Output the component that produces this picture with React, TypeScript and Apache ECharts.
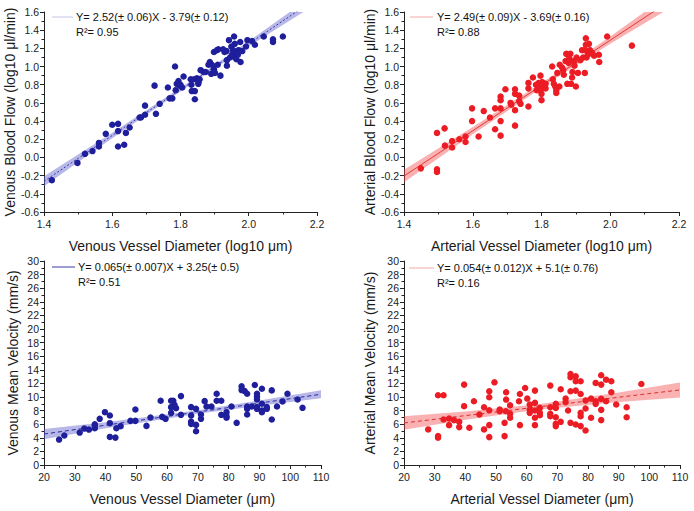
import React, { useEffect, useRef } from "react";
import * as echarts from "echarts";

// ---------- DATA ----------
const venousFlowPoints: number[][] = [
  [1.423, -0.25], [1.498, -0.06], [1.52, 0.04], [1.542, 0.07], [1.561, 0.16], [1.561, 0.12],
  [1.581, 0.26], [1.6, 0.36], [1.617, 0.37], [1.617, 0.29], [1.617, 0.12], [1.635, 0.14],
  [1.64, 0.27], [1.651, 0.33], [1.68, 0.44], [1.684, 0.44], [1.696, 0.57], [1.696, 0.47],
  [1.724, 0.79], [1.728, 0.48], [1.739, 0.59], [1.763, 0.77], [1.768, 0.65], [1.776, 0.65],
  [1.784, 1.0], [1.786, 0.74], [1.789, 0.81], [1.794, 0.84], [1.798, 0.79], [1.805, 0.77],
  [1.809, 0.89], [1.8, 0.8], [1.83, 0.86], [1.832, 0.8], [1.833, 0.73], [1.84, 0.86],
  [1.842, 0.73], [1.842, 0.64], [1.848, 0.87], [1.852, 0.81], [1.856, 0.86], [1.859, 0.96],
  [1.868, 0.94], [1.874, 0.94], [1.882, 1.02], [1.886, 1.05], [1.892, 1.02], [1.89, 0.92],
  [1.898, 0.97], [1.901, 0.93], [1.898, 1.16], [1.907, 1.18], [1.911, 1.19], [1.909, 1.02],
  [1.917, 0.9], [1.925, 1.19], [1.929, 1.16], [1.935, 1.17], [1.936, 1.07], [1.936, 1.01],
  [1.942, 1.29], [1.945, 1.1], [1.949, 1.22], [1.951, 1.13], [1.954, 1.18], [1.957, 1.33],
  [1.959, 1.25], [1.96, 1.1], [1.963, 1.14], [1.964, 1.08], [1.968, 1.13], [1.97, 1.18],
  [1.975, 1.27], [1.976, 1.05], [1.981, 1.17], [1.992, 1.22], [1.996, 1.29], [2.01, 1.28],
  [2.018, 1.24], [2.044, 1.33], [2.071, 1.3], [2.071, 1.27], [2.1, 1.33], [1.853, 0.83],
];

const arterialFlowPoints: number[][] = [
  [1.449, -0.12], [1.496, 0.27], [1.496, -0.13], [1.496, -0.16], [1.518, 0.32], [1.519, 0.13],
  [1.54, 0.18], [1.54, 0.11], [1.561, 0.2], [1.579, 0.23], [1.579, 0.17], [1.598, 0.54],
  [1.598, 0.4], [1.617, 0.23], [1.632, 0.51], [1.65, 0.44], [1.665, 0.54], [1.665, 0.31],
  [1.681, 0.67], [1.681, 0.63], [1.681, 0.54], [1.681, 0.4], [1.681, 0.24], [1.695, 0.75],
  [1.71, 0.6], [1.712, 0.58], [1.723, 0.75], [1.723, 0.7], [1.723, 0.52], [1.723, 0.35],
  [1.735, 0.68], [1.735, 0.62], [1.739, 0.59], [1.762, 0.76], [1.762, 0.56], [1.762, 0.82],
  [1.775, 0.88], [1.784, 0.8], [1.786, 0.74], [1.79, 0.78], [1.792, 0.82], [1.797, 0.9],
  [1.797, 0.74], [1.8, 0.63], [1.8, 0.7], [1.802, 0.83], [1.807, 0.77], [1.812, 0.81],
  [1.812, 0.76], [1.831, 1.0], [1.833, 0.86], [1.836, 0.81], [1.84, 0.78], [1.843, 0.74],
  [1.843, 0.71], [1.846, 0.93], [1.852, 0.78], [1.853, 1.02], [1.86, 0.99], [1.863, 0.96],
  [1.865, 0.91], [1.87, 1.06], [1.872, 1.14], [1.875, 0.81], [1.877, 1.13], [1.879, 1.04],
  [1.881, 1.09], [1.884, 1.14], [1.886, 0.81], [1.889, 0.88], [1.89, 0.94], [1.894, 1.06],
  [1.896, 1.01], [1.9, 0.78], [1.902, 1.1], [1.906, 0.93], [1.913, 1.07], [1.918, 1.18],
  [1.921, 1.1], [1.926, 0.93], [1.927, 1.18], [1.929, 1.31], [1.929, 1.24], [1.931, 1.1],
  [1.935, 1.13], [1.938, 1.25], [1.941, 1.18], [1.947, 1.15], [1.953, 1.12], [1.967, 1.13],
  [1.968, 1.05], [1.991, 1.33], [2.063, 1.23],
];

const venousVelocityPoints: number[][] = [
  [24.9, 3.74], [26.6, 4.33], [31.6, 4.77], [33.1, 5.36], [34.6, 5.21], [36.5, 5.41],
  [36.5, 5.8], [36.5, 6.0], [38.1, 6.79], [39.8, 7.77], [41.4, 7.28], [41.4, 6.15],
  [41.4, 4.13], [43.2, 4.03], [43.5, 5.41], [44.9, 5.71], [48.1, 6.49], [49.7, 8.17],
  [49.7, 6.49], [53.3, 5.75], [54.6, 6.98], [57.9, 9.44], [58.4, 7.08], [59.5, 6.79],
  [61.3, 7.67], [61.3, 8.51], [61.3, 9.44], [62.0, 9.44], [62.4, 8.85], [62.9, 8.36],
  [64.5, 10.13], [64.5, 7.38], [67.8, 8.51], [67.8, 7.28], [67.8, 6.39], [67.8, 6.05],
  [69.4, 8.26], [69.4, 5.9], [69.4, 4.97], [71.0, 7.43], [71.0, 6.79], [72.2, 9.39],
  [72.8, 8.61], [74.4, 8.61], [76.1, 10.48], [76.1, 9.44], [77.6, 9.44], [77.6, 7.38],
  [79.3, 7.77], [79.3, 7.18], [79.3, 6.94], [80.9, 8.61], [82.6, 6.2], [84.2, 11.56],
  [84.2, 11.02], [85.2, 10.87], [86.0, 10.48], [86.0, 8.61], [86.0, 8.26], [86.0, 7.43],
  [87.5, 8.61], [88.5, 11.76], [89.2, 10.48], [89.2, 10.03], [89.2, 9.64], [89.2, 8.51],
  [89.2, 8.26], [90.8, 11.22], [90.8, 9.0], [90.8, 8.02], [90.8, 7.77], [92.4, 8.51],
  [92.4, 8.26], [94.0, 10.97], [94.0, 6.69], [95.7, 8.61], [97.5, 9.35], [99.1, 10.48],
  [102.4, 9.64], [104.0, 8.41],
];

const arterialVelocityPoints: number[][] = [
  [27.9, 5.23], [31.1, 10.26], [31.1, 4.25], [31.1, 4.0], [32.9, 10.26], [32.9, 6.69],
  [34.7, 6.84], [34.7, 5.86], [36.3, 6.6], [38.0, 6.35], [38.0, 5.57], [39.6, 11.82],
  [39.6, 8.65], [41.3, 5.47], [42.8, 9.38], [44.6, 7.43], [46.1, 8.5], [46.1, 5.23],
  [47.8, 10.85], [47.8, 9.97], [47.8, 8.06], [47.8, 5.86], [47.8, 4.1], [49.5, 12.16],
  [51.2, 8.16], [51.2, 7.91], [52.8, 6.2], [52.8, 4.25], [53.2, 7.91], [53.3, 10.7],
  [53.3, 9.62], [54.6, 8.79], [54.6, 7.52], [54.6, 6.94], [57.5, 9.38], [57.8, 10.45],
  [57.8, 5.86], [59.5, 11.33], [60.2, 9.77], [61.0, 8.89], [61.0, 8.16], [61.0, 7.67],
  [62.7, 10.94], [62.7, 9.14], [62.7, 8.01], [62.7, 6.94], [62.7, 5.86], [64.3, 8.4],
  [64.3, 7.67], [64.3, 7.33], [67.7, 11.68], [67.7, 8.5], [67.7, 7.52], [67.7, 7.18],
  [69.5, 8.99], [69.5, 8.4], [69.5, 7.03], [69.5, 6.06], [69.5, 5.72], [71.1, 11.14],
  [71.1, 6.35], [72.7, 9.77], [72.7, 9.23], [73.5, 8.01], [74.3, 13.39], [74.3, 12.9],
  [74.3, 10.85], [74.3, 6.2], [76.0, 13.04], [76.0, 12.31], [76.0, 10.94], [76.0, 5.96],
  [77.6, 12.31], [77.6, 10.45], [77.6, 7.67], [77.6, 7.18], [77.6, 5.72], [79.2, 9.48],
  [79.2, 8.3], [79.2, 5.08], [81.0, 9.77], [81.0, 6.94], [82.5, 12.07], [82.5, 9.38],
  [82.5, 8.99], [84.3, 13.19], [84.3, 11.82], [84.3, 9.72], [84.3, 8.11], [84.3, 6.6],
  [85.9, 12.55], [85.9, 9.38], [87.6, 12.31], [87.6, 10.7], [89.2, 8.89], [92.6, 8.5],
  [92.6, 7.03], [97.4, 11.92],
];

// Fit line end points
const venousFlowFit = [[1.4, -0.262], [2.2, 1.754]];
const arterialFlowFit = [[1.4, -0.204], [2.2, 1.788]];
const venousVelocityFit = [[20, 4.55], [110, 10.4]];
const arterialVelocityFit = [[20, 6.18], [110, 11.04]];

// Confidence bands
const venousFlowBandX = [1.4, 1.6, 1.85, 2.0, 2.2];
const venousFlowBandLo = [-0.317, 0.212, 0.854, 1.222, 1.694];
const venousFlowBandHi = [-0.207, 0.272, 0.89, 1.278, 1.814];

const arterialFlowBandX = [1.4, 1.6, 1.85, 2.0, 2.2];
const arterialFlowBandLo = [-0.274, 0.254, 0.892, 1.25, 1.703];
const arterialFlowBandHi = [-0.134, 0.334, 0.942, 1.33, 1.873];

const venousVelocityBandX = [20, 40, 70, 90, 110];
const venousVelocityBandLo = [3.8, 5.4, 7.55, 8.7, 9.8];
const venousVelocityBandHi = [5.3, 6.3, 8.05, 9.5, 11.0];

const arterialVelocityBandX = [20, 40, 65, 90, 110];
const arterialVelocityBandLo = [5.18, 6.66, 8.21, 9.26, 9.94];
const arterialVelocityBandHi = [7.18, 7.86, 9.01, 10.66, 12.14];

const legendEquations = [
  "Y= 2.52(± 0.06)X - 3.79(± 0.12)",
  "Y= 2.49(± 0.09)X - 3.69(± 0.16)",
  "Y= 0.065(± 0.007)X + 3.25(± 0.5)",
  "Y= 0.054(± 0.012)X + 5.1(± 0.76)",
];
const legendR2 = ["R²= 0.95", "R²= 0.88", "R²= 0.51", "R²= 0.16"];

const xTitles = [
  "Venous Vessel Diameter (log10 μm)",
  "Arterial Vessel Diameter (log10 μm)",
  "Venous Vessel Diameter (μm)",
  "Arterial Vessel Diameter (μm)",
];
const yTitles = [
  "Venous Blood Flow (log10 μl/min)",
  "Arterial Blood Flow (log10 μl/min)",
  "Venous Mean Velocity (mm/s)",
  "Arterial Mean Velocity (mm/s)",
];

// ---------- STYLE ----------
const FONT = '"Liberation Sans", Arial, Helvetica, sans-serif';
const BLUE = "#1f1f9c";
const RED = "#ec1c24";
const BLUE_BAND = "rgba(95,95,205,0.45)";
const RED_BAND = "rgba(242,70,70,0.42)";
const AXIS = "#222";

type Panel = {
  grid: { left: number; top: number; width: number; height: number };
  xMin: number; xMax: number; xInt: number; xDec: number;
  yMin: number; yMax: number; yInt: number; yDec: number;
  points: number[][];
  fit: number[][];
  bandX: number[]; bandLo: number[]; bandHi: number[];
  color: string; band: string;
  lineType: any; lineColor: string;
  yNameGap: number; xNameGap: number;
  legendLine: [number, number, number]; legendColor: string; legendTextX: number; legendY: number;
};

const panels: Panel[] = [
  {
    grid: { left: 44, top: 12, width: 273, height: 200 },
    xMin: 1.4, xMax: 2.2, xInt: 0.2, xDec: 1, yMin: -0.6, yMax: 1.6, yInt: 0.2, yDec: 1,
    points: venousFlowPoints, fit: venousFlowFit,
    bandX: venousFlowBandX, bandLo: venousFlowBandLo, bandHi: venousFlowBandHi,
    color: BLUE, band: BLUE_BAND, lineType: [2, 2], lineColor: "#3a3aa8",
    yNameGap: 25, xNameGap: 27,
    legendLine: [52, 73, 17], legendColor: "#c4c4ea", legendTextX: 76, legendY: 17,
  },
  {
    grid: { left: 404, top: 12, width: 275, height: 200 },
    xMin: 1.4, xMax: 2.2, xInt: 0.2, xDec: 1, yMin: -0.6, yMax: 1.6, yInt: 0.2, yDec: 1,
    points: arterialFlowPoints, fit: arterialFlowFit,
    bandX: arterialFlowBandX, bandLo: arterialFlowBandLo, bandHi: arterialFlowBandHi,
    color: RED, band: RED_BAND, lineType: "solid", lineColor: "#e23a3a",
    yNameGap: 27, xNameGap: 27,
    legendLine: [410, 433, 17], legendColor: "#f6a8a8", legendTextX: 437, legendY: 17,
  },
  {
    grid: { left: 44, top: 261, width: 277, height: 204 },
    xMin: 20, xMax: 110, xInt: 10, xDec: 0, yMin: 0, yMax: 30, yInt: 2, yDec: 0,
    points: venousVelocityPoints, fit: venousVelocityFit,
    bandX: venousVelocityBandX, bandLo: venousVelocityBandLo, bandHi: venousVelocityBandHi,
    color: BLUE, band: BLUE_BAND, lineType: [4, 3], lineColor: "#2a2a9e",
    yNameGap: 24, xNameGap: 27,
    legendLine: [52, 75, 267], legendColor: "#3a3aa6", legendTextX: 78, legendY: 267,
  },
  {
    grid: { left: 404, top: 261, width: 276, height: 204 },
    xMin: 20, xMax: 110, xInt: 10, xDec: 0, yMin: 0, yMax: 30, yInt: 2, yDec: 0,
    points: arterialVelocityPoints, fit: arterialVelocityFit,
    bandX: arterialVelocityBandX, bandLo: arterialVelocityBandLo, bandHi: arterialVelocityBandHi,
    color: RED, band: RED_BAND, lineType: [4, 3], lineColor: "#d83030",
    yNameGap: 27, xNameGap: 27,
    legendLine: [409, 434, 268], legendColor: "#f6a8a8", legendTextX: 437, legendY: 268,
  },
];

function buildOption() {
  const grid: any[] = [];
  const xAxis: any[] = [];
  const yAxis: any[] = [];
  const series: any[] = [];
  const graphic: any[] = [];

  panels.forEach((p, i) => {
    grid.push({ ...p.grid, containLabel: false });
    const common = {
      type: "value",
      gridIndex: i,
      axisLine: { show: true, onZero: false, lineStyle: { color: AXIS, width: 1 } },
      axisTick: { show: true, inside: false, length: 4, lineStyle: { color: AXIS, width: 1 } },
      minorTick: { show: true, splitNumber: 2, length: 2.5, lineStyle: { color: AXIS, width: 1 } },
      splitLine: { show: false },
      minorSplitLine: { show: false },
      nameLocation: "middle",
      nameTextStyle: { fontSize: 14, color: "#1a1a1a", fontFamily: FONT },
    };
    xAxis.push({
      ...common,
      min: p.xMin, max: p.xMax, interval: p.xInt,
      name: xTitles[i], nameGap: p.xNameGap,
      axisLabel: {
        fontSize: 10.5, color: AXIS, fontFamily: FONT, margin: 6,
        formatter: (v: number) => v.toFixed(p.xDec),
      },
    });
    yAxis.push({
      ...common,
      min: p.yMin, max: p.yMax, interval: p.yInt,
      name: yTitles[i], nameGap: p.yNameGap,
      axisLabel: {
        fontSize: 10.5, color: AXIS, fontFamily: FONT, margin: 5,
        formatter: (v: number) => (p.yDec ? (Math.abs(v) < 1e-9 ? 0 : v).toFixed(p.yDec) : String(Math.round(v))),
      },
    });

    series.push({
      type: "custom",
      xAxisIndex: i, yAxisIndex: i,
      clip: true,
      z: 1,
      silent: true,
      data: [[p.bandX[0], p.bandLo[0]]],
      renderItem: (params: any, api: any) => {
        const up = p.bandX.map((x, k) => api.coord([x, p.bandHi[k]]));
        const dn = p.bandX.map((x, k) => api.coord([x, p.bandLo[k]])).reverse();
        return {
          type: "polygon",
          shape: { points: up.concat(dn) },
          style: { fill: p.band, stroke: null },
        };
      },
    });
    series.push({
      type: "line",
      xAxisIndex: i, yAxisIndex: i,
      data: p.fit,
      showSymbol: false,
      symbol: "none",
      clip: true,
      z: 2,
      lineStyle: { color: p.lineColor, width: 1, type: p.lineType },
    });
    series.push({
      type: "scatter",
      xAxisIndex: i, yAxisIndex: i,
      data: p.points,
      symbol: "circle",
      symbolSize: 6.5,
      z: 3,
      itemStyle: { color: p.color, opacity: 1 },
    });

    graphic.push({
      type: "line",
      shape: { x1: p.legendLine[0], y1: p.legendLine[2], x2: p.legendLine[1], y2: p.legendLine[2] },
      style: { stroke: p.legendColor, lineWidth: 1 },
    });
    graphic.push({
      type: "text",
      x: p.legendTextX, y: p.legendY,
      style: { text: legendEquations[i], fontSize: 11, fontFamily: FONT, fill: "#111", verticalAlign: "middle" },
    });
    graphic.push({
      type: "text",
      x: p.legendTextX, y: p.legendY + 15,
      style: { text: legendR2[i], fontSize: 11, fontFamily: FONT, fill: "#111", verticalAlign: "middle" },
    });
  });

  return {
    animation: false,
    backgroundColor: "#ffffff",
    textStyle: { fontFamily: FONT },
    grid, xAxis, yAxis, series, graphic,
  };
}

export default function App() {
  const ref = useRef<HTMLDivElement>(null);
  useEffect(() => {
    document.body.style.margin = "0";
    if (!ref.current) return;
    const chart = echarts.init(ref.current, undefined, { renderer: "svg" });
    chart.setOption(buildOption() as any);
    return () => chart.dispose();
  }, []);
  return <div ref={ref} style={{ width: 694, height: 511 }} />;
}
